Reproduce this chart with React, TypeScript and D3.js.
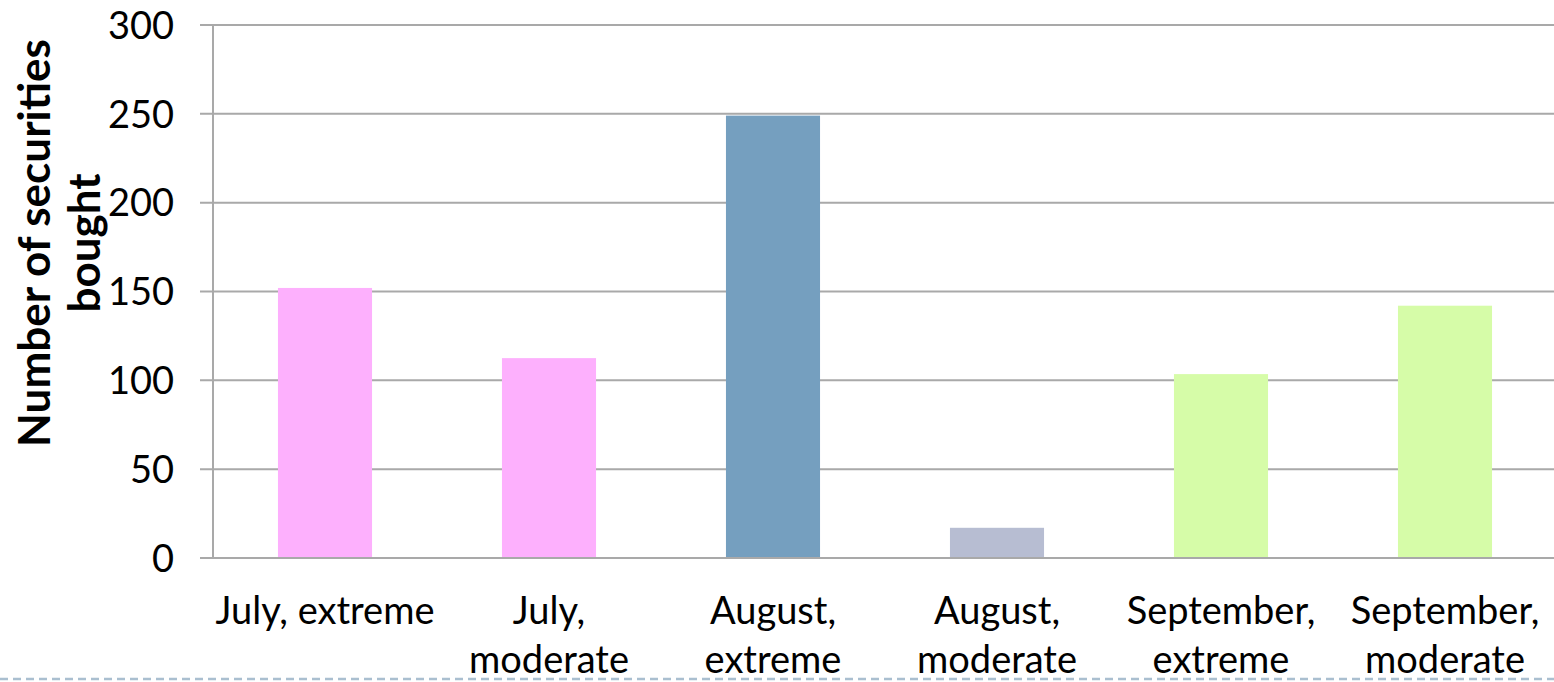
import React from "react";
import * as d3 from "d3";

const categories = [
  "July, extreme",
  "July, moderate",
  "August, extreme",
  "August, moderate",
  "September, extreme",
  "September, moderate",
];
const categoryLines = [
  ["July, extreme"],
  ["July,", "moderate"],
  ["August,", "extreme"],
  ["August,", "moderate"],
  ["September,", "extreme"],
  ["September,", "moderate"],
];
const values = [152, 112.5, 249, 17, 103.5, 142];
const barColors = ["#fdb0fd", "#fdb0fd", "#759fbf", "#b7bdd2", "#d6fca8", "#d6fca8"];
const yTicks = [0, 50, 100, 150, 200, 250, 300];
const yTitleLines = ["Number of securities", "bought"];

const W = 1554;
const H = 682;
const FONT = "Lato, 'Open Sans', sans-serif";

export default function App() {
  const left = 213;
  const top = 25;
  const bottom = 558;
  const step = 224;
  const right = left + step * categories.length;

  const x = d3
    .scaleBand<string>()
    .domain(categories)
    .range([left, right])
    .paddingInner(0.58)
    .paddingOuter(0.29);
  const y = d3.scaleLinear().domain([0, 300]).range([bottom, top]);

  const grid = "#a9a9a9";

  return (
    <svg
      width={W}
      height={H}
      style={{ position: "absolute", left: 0, top: 0, display: "block", background: "#fff" }}
    >
      {yTicks.map((t) => (
        <line
          key={"g" + t}
          x1={left - 13}
          x2={W}
          y1={y(t)}
          y2={y(t)}
          stroke={grid}
          strokeWidth={2}
        />
      ))}
      <line x1={left} x2={left} y1={top} y2={bottom} stroke={grid} strokeWidth={2} />
      {categories.map((c, i) => (
        <rect
          key={c}
          x={x(c)}
          y={y(values[i])}
          width={x.bandwidth()}
          height={y(0) - y(values[i])}
          fill={barColors[i]}
        />
      ))}
      <line x1={left - 13} x2={W} y1={bottom} y2={bottom} stroke={grid} strokeWidth={2} />
      {yTicks.map((t) => (
        <text
          key={"t" + t}
          x={174}
          y={y(t)}
          dy="0.36em"
          textAnchor="end"
          fontFamily={FONT}
          fontSize={38}
          fill="#000"
        >
          {t}
        </text>
      ))}
      {categories.map((c, i) => (
        <text
          key={"l" + c}
          textAnchor="middle"
          fontFamily={FONT}
          fontSize={38}
          fill="#000"
        >
          {categoryLines[i].map((ln, j) => (
            <tspan key={j} x={(x(c) as number) + x.bandwidth() / 2} y={624 + j * 49}>
              {ln}
            </tspan>
          ))}
        </text>
      ))}
      <text
        transform="translate(0,243) rotate(-90)"
        textAnchor="middle"
        fontFamily={FONT}
        fontWeight="bold"
        fontSize={44}
        fill="#000"
      >
        {yTitleLines.map((ln, j) => (
          <tspan key={j} x={0} y={50 + j * 50}>
            {ln}
          </tspan>
        ))}
      </text>
      <line
        x1={0}
        x2={W}
        y1={679}
        y2={679}
        stroke="#aabfd0"
        strokeWidth={2.5}
        strokeDasharray="8 5"
      />
    </svg>
  );
}
